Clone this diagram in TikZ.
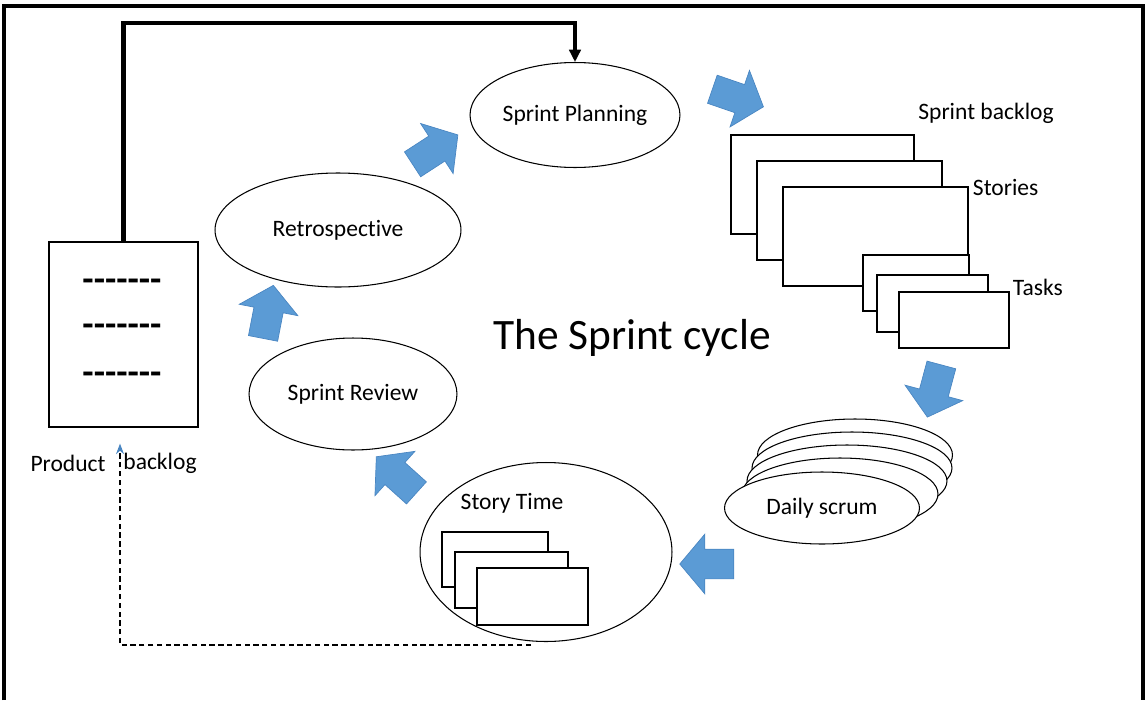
\documentclass[tikz,border=0pt]{standalone}
\usepackage{fontspec}
\setmainfont{Carlito}[Ligatures={TeX,NoCommon}]
\usepackage{tikz}
\usetikzlibrary{shapes.geometric,shapes.arrows,arrows.meta,positioning}
\definecolor{spblue}{HTML}{5B9BD5}
\definecolor{spedge}{HTML}{4A86C2}
\newcommand{\lblfont}{\fontsize{13.4}{16}\selectfont}
\newcommand{\cyclefont}{\fontsize{24.7}{30}\selectfont}
\newcommand{\dashfont}{\fontsize{21}{24}\selectfont\bfseries}
\begin{document}
\begin{tikzpicture}[x=0.02cm, y=-0.02cm,
  meet/.style={ellipse, draw, line width=0.6pt, fill=white, inner sep=0pt, font=\lblfont},
  card/.style={rectangle, draw, line width=0.7pt, fill=white, inner sep=0pt},
  flow/.style={single arrow, fill=spblue, draw=spedge, line width=0.4pt, inner xsep=0pt, inner ysep=0.29cm,
               minimum height=1.08cm, single arrow head extend=0.3cm,
               single arrow tip angle=100},
  lbl/.style={font=\lblfont, inner sep=0pt},
  feed/.style={-{Triangle[length=7pt,width=6.5pt]}, line width=2.3pt},
  back/.style={-{Stealth[length=6pt,width=4.5pt,color=spedge]}, line width=0.7pt, dash pattern=on 3pt off 2pt},
  node distance=0.1cm
]
\useasboundingbox (0,0) rectangle (1146,700);
\draw[line width=1.8pt] (4,700) |- (1143,6) -- (1143,700);
% meetings of the cycle
\node[meet, minimum width=4.2cm, minimum height=2.1cm] (plan) at (575,115) {Sprint Planning};
\node[meet, minimum width=4.92cm, minimum height=2.28cm] (retro) at (338,230) {Retrospective};
\node[meet, minimum width=4.16cm, minimum height=2.24cm] (review) at (353,394) {Sprint Review};
\node[meet, minimum width=5.04cm, minimum height=3.58cm] (story) at (546,552) {};
\node[lbl] (storytxt) at (512,503) {Story Time};
\node[card, minimum width=2.12cm, minimum height=1.1cm] (sc1) at (495,559.5) {};
\node[card, minimum width=2.26cm, minimum height=1.12cm] (sc2) at (511.5,580) {};
\node[card, minimum width=2.22cm, minimum height=1.14cm] (sc3) at (532.5,596.5) {};
\foreach \i/\cx/\cy/\w in {4/855/455/3.9, 3/852/468/4.0, 2/847/481/4.0, 1/840/494/3.92}
  \node[meet, minimum width=\w cm, minimum height=1.44cm] (scrum\i) at (\cx,\cy) {};
\node[meet, minimum width=3.9cm, minimum height=1.44cm] (scrum) at (822,508) {Daily scrum};
% sprint backlog
\node[card, minimum width=3.66cm, minimum height=1.98cm] (s1) at (822.5,184.5) {};
\node[card, minimum width=3.7cm, minimum height=1.98cm] (s2) at (849.5,210.5) {};
\node[card, minimum width=3.7cm, minimum height=1.98cm] (s3) at (875.5,236.5) {};
\node[card, minimum width=2.12cm, minimum height=1.12cm] (t1) at (916,283) {};
\node[card, minimum width=2.22cm, minimum height=1.14cm] (t2) at (932.5,303.5) {};
\node[card, minimum width=2.2cm, minimum height=1.12cm] (t3) at (954,320) {};
\node[lbl, anchor=west] (sbl) at (918,113) {Sprint backlog};
\node[lbl, right=0.08cm of s3.north east, yshift=-0.02cm] (stories) {Stories};
\node[lbl, right=0.06cm of t3.north east, yshift=0.08cm] (tasks) {Tasks};
% product backlog
\node[card, minimum width=2.98cm, minimum height=3.7cm] (prod) at (123.5,334.5) {};
\node[font=\dashfont, inner sep=0pt] (d1) at (122,285) {-{}-{}-{}-{}-{}-{}-};
\node[font=\dashfont, inner sep=0pt] (d2) at (122,330) {-{}-{}-{}-{}-{}-{}-};
\node[font=\dashfont, inner sep=0pt] (d3) at (122,378) {-{}-{}-{}-{}-{}-{}-};
\node[lbl] (prodtxt) at (68,463) {Product};
\node[lbl] (blogtxt) at (160,463) {backlog};
\node[font=\cyclefont] (cycle) at (632,338) {The Sprint cycle};
% blue flow arrows
\node[flow, rotate=79] (f1) at (267,318) {};
\node[flow, rotate=33] (f2) at (430,153) {};
\node[flow, rotate=-19] (f3) at (732,96) {};
\node[flow, rotate=-105] (f4) at (936,385) {};
\node[flow, rotate=180] (f5) at (713,564) {};
\node[flow, rotate=138] (f6) at (401,479) {};
% connectors
\coordinate (top) at (350,23);
\draw[feed] (prod.north) |- (top) -| (plan.north);
\draw[back] ([xshift=-0.3cm,yshift=-0.06cm]story.south) -| ([xshift=-0.07cm,yshift=-0.32cm]prod.south);
\end{tikzpicture}
\end{document}
